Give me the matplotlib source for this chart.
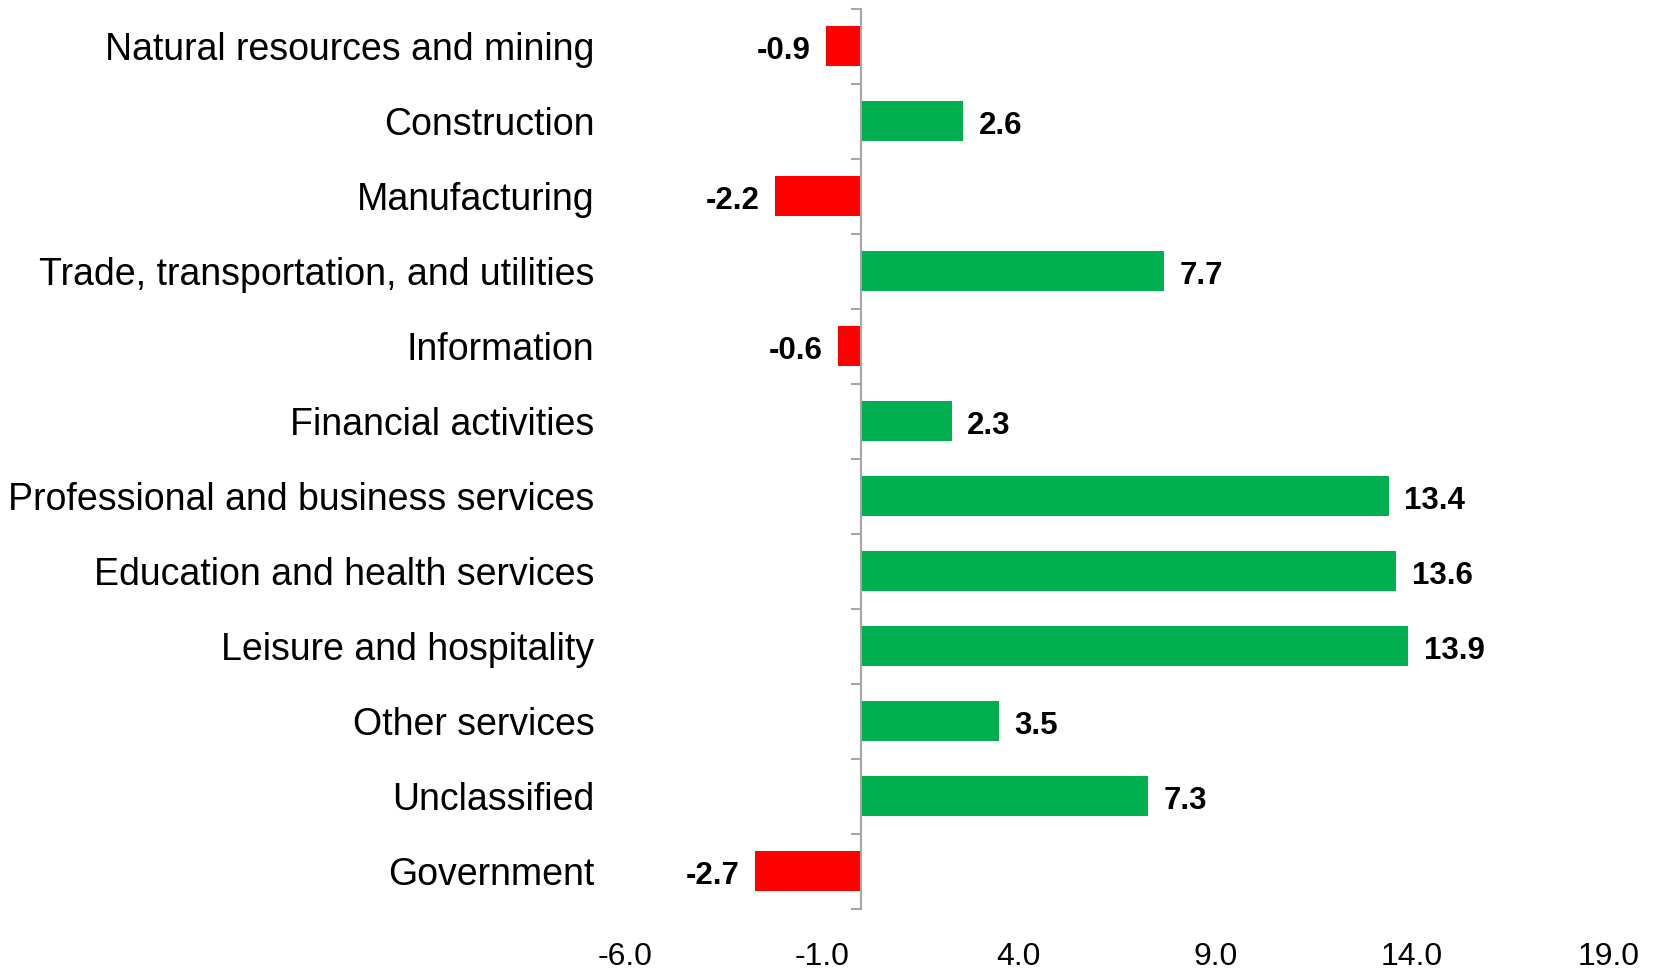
import numpy as np
import matplotlib.pyplot as plt

sectors = ["Natural resources and mining", "Construction", "Manufacturing",
           "Trade, transportation, and utilities", "Information",
           "Financial activities", "Professional and business services",
           "Education and health services", "Leisure and hospitality",
           "Other services", "Unclassified", "Government"]
values = [-0.9, 2.6, -2.2, 7.7, -0.6, 2.3, 13.4, 13.6, 13.9, 3.5, 7.3, -2.7]
xticks = [-6, -1, 4, 9, 14, 19]

plt.rcParams['font.family'] = ['Liberation Sans', 'DejaVu Sans']

fig = plt.figure(figsize=(16.57, 9.71), dpi=100)
ax = fig.add_axes([0.3772, 0.064, 0.9710 - 0.3772, 0.927])

y = np.arange(len(sectors))
colors = ["#FF0000" if v < 0 else "#00B050" for v in values]
ax.barh(y, values, height=0.53, color=colors)

for yi, v in zip(y, values):
    if v < 0:
        ax.annotate(f"{v:.1f}", (v, yi), xytext=(-11, -3.5), textcoords="offset points",
                    ha="right", va="center", fontsize=22.5, fontweight="bold")
    else:
        ax.annotate(f"{v:.1f}", (v, yi), xytext=(11, -3.5), textcoords="offset points",
                    ha="left", va="center", fontsize=22.5, fontweight="bold")

ax.set_xlim(-6, 19)
ax.set_ylim(len(sectors) - 0.5, -0.5)
ax.set_xticks(xticks, [f"{t:.1f}" for t in xticks])
ax.tick_params(axis="x", length=0, pad=24, labelsize=23)

# category axis sits on zero
for s in ["top", "right", "bottom"]:
    ax.spines[s].set_visible(False)
ax.spines["left"].set_position(("data", 0))
ax.spines["left"].set_color("#A6A6A6")
ax.spines["left"].set_linewidth(1.5)
ax.set_yticks(y, sectors)
ax.set_yticks(np.arange(len(sectors) + 1) - 0.5, minor=True)
ax.tick_params(axis="y", which="major", length=0, pad=192, labelsize=27)
ax.tick_params(axis="y", which="minor", length=7, width=1.5, color="#A6A6A6")

fig.savefig("out.png", dpi=100)
